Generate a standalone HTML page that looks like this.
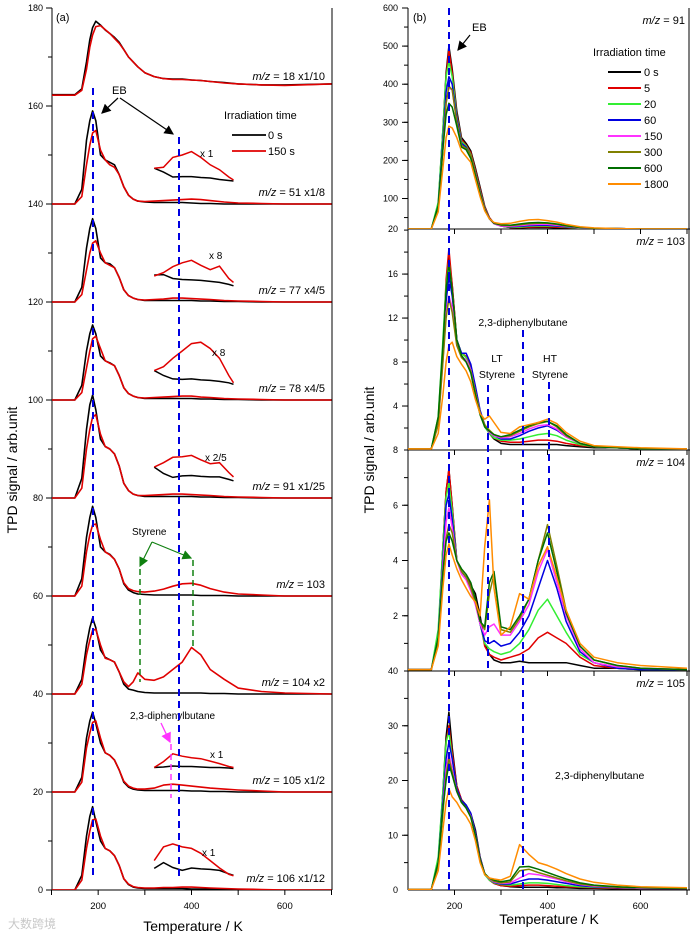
<!DOCTYPE html>
<html><head><meta charset="utf-8">
<style>
html,body{margin:0;padding:0;background:#fff;}
svg{display:block;font-family:"Liberation Sans",Arial,sans-serif;}
</style></head>
<body>
<svg id="chart" width="690" height="937" viewBox="0 0 690 937" xmlns="http://www.w3.org/2000/svg">
<defs>
<clipPath id="clipA"><rect x="52" y="4" width="280" height="886"/></clipPath>
<clipPath id="clipB1"><rect x="408" y="4" width="282" height="225"/></clipPath>
<clipPath id="clipB2"><rect x="408" y="229" width="282" height="221"/></clipPath>
<clipPath id="clipB3"><rect x="408" y="450" width="282" height="221"/></clipPath>
<clipPath id="clipB4"><rect x="408" y="671" width="282" height="219"/></clipPath>
<marker id="arrBlack" markerWidth="8" markerHeight="8" refX="7" refY="4" orient="auto"><path d="M0,0 L8,4 L0,8 z" fill="#000"/></marker>
<marker id="arrGreen" markerWidth="8" markerHeight="8" refX="7" refY="4" orient="auto"><path d="M0,0 L8,4 L0,8 z" fill="#108010"/></marker>
<marker id="arrMag" markerWidth="8" markerHeight="8" refX="7" refY="4" orient="auto"><path d="M0,0 L8,4 L0,8 z" fill="#ff33ff"/></marker>
</defs>
<g id="layer-axes"></g>
<g id="layer-marks"></g>
<g id="layer-annot" font-size="11">
  <text x="56" y="21" font-size="11">(a)</text>
  <text x="413" y="21" font-size="11">(b)</text>
  <text x="112" y="94" font-size="11">EB</text>
  <line x1="118" y1="98" x2="102" y2="113" stroke="#000" stroke-width="1.2" marker-end="url(#arrBlack)"/>
  <line x1="120" y1="98" x2="173" y2="134" stroke="#000" stroke-width="1.2" marker-end="url(#arrBlack)"/>
  <text x="224" y="119" font-size="11">Irradiation time</text>
  <line x1="232" y1="135" x2="266" y2="135" stroke="#000" stroke-width="1.8"/>
  <text x="268" y="139" font-size="11">0 s</text>
  <line x1="232" y1="151" x2="266" y2="151" stroke="#e00000" stroke-width="1.8"/>
  <text x="268" y="155" font-size="11">150 s</text>
  <text x="200" y="157" font-size="10">x 1</text>
  <text x="209" y="259" font-size="10">x 8</text>
  <text x="212" y="356" font-size="10">x 8</text>
  <text x="205" y="461" font-size="10">x 2/5</text>
  <text x="132" y="535" font-size="10">Styrene</text>
  <line x1="152" y1="542" x2="140" y2="566" stroke="#108010" stroke-width="1.2" marker-end="url(#arrGreen)"/>
  <line x1="152" y1="542" x2="191" y2="558" stroke="#108010" stroke-width="1.2" marker-end="url(#arrGreen)"/>
  <line x1="140" y1="569" x2="140" y2="682" stroke="#108010" stroke-width="1.5" stroke-dasharray="6,4"/>
  <line x1="193" y1="560" x2="193" y2="650" stroke="#108010" stroke-width="1.5" stroke-dasharray="6,4"/>
  <text x="130" y="719" font-size="10">2,3-diphenylbutane</text>
  <line x1="161" y1="723" x2="170" y2="742" stroke="#ff33ff" stroke-width="1.3" marker-end="url(#arrMag)"/>
  <line x1="171" y1="744" x2="171" y2="798" stroke="#ff33ff" stroke-width="1.5" stroke-dasharray="6,4"/>
  <text x="210" y="758" font-size="10">x 1</text>
  <text x="202" y="856" font-size="10">x 1</text>
  <line x1="93" y1="88" x2="93" y2="880" stroke="#0000e0" stroke-width="2" stroke-dasharray="7,5"/>
  <line x1="179" y1="137" x2="179" y2="880" stroke="#0000e0" stroke-width="2" stroke-dasharray="7,5"/>
  <text x="472" y="31" font-size="11">EB</text>
  <line x1="470" y1="35" x2="458" y2="50" stroke="#000" stroke-width="1.2" marker-end="url(#arrBlack)"/>
  <text x="593" y="56" font-size="11">Irradiation time</text>
  <text x="497" y="362" font-size="10.5" text-anchor="middle">LT</text>
  <text x="497" y="378" font-size="10.5" text-anchor="middle">Styrene</text>
  <text x="550" y="362" font-size="10.5" text-anchor="middle">HT</text>
  <text x="550" y="378" font-size="10.5" text-anchor="middle">Styrene</text>
  <text x="523" y="326" font-size="10.5" text-anchor="middle">2,3-diphenylbutane</text>
  <text x="555" y="779" font-size="10.5">2,3-diphenylbutane</text>
  <line x1="449" y1="8" x2="449" y2="890" stroke="#0000e0" stroke-width="2" stroke-dasharray="7,5"/>
  <line x1="488" y1="385" x2="488" y2="670" stroke="#0000e0" stroke-width="2" stroke-dasharray="7,5"/>
  <line x1="523" y1="330" x2="523" y2="890" stroke="#0000e0" stroke-width="2" stroke-dasharray="7,5"/>
  <line x1="549" y1="382" x2="549" y2="560" stroke="#0000e0" stroke-width="2" stroke-dasharray="7,5"/>
  <text x="193" y="931" font-size="14" text-anchor="middle">Temperature / K</text>
  <text x="549" y="924" font-size="14" text-anchor="middle">Temperature / K</text>
  <text transform="translate(17,470) rotate(-90)" font-size="14" text-anchor="middle">TPD signal / arb.unit</text>
  <text transform="translate(374,450) rotate(-90)" font-size="14" text-anchor="middle">TPD signal / arb.unit</text>
  <text x="8" y="928" font-size="12" fill="#c8c8c8" font-family="'Liberation Sans','Noto Sans CJK SC',sans-serif">大数跨境</text>
</g>
</svg>
<script>
// Temperature grid (K) for main traces
const tempsA = [150,165,175,182,188,195,205,215,225,235,245,255,265,275,285,300,320,340,360,380,400,420,440,470,500,550,600,700];
const tempsInset = [320,340,360,380,400,420,440,460,480,490];

// Panel (a) baselines and traces (relative to baseline)
const baseA = [162,140,120,100,80,60,40,20,0];
const labelsA = ["18 x1/10","51 x1/8","77 x4/5","78 x4/5","91 x1/25","103","104 x2","105 x1/2","106 x1/12"];
const a18Black = [0.3,1.5,7,11.5,14,15.3,14.5,13.5,12.8,12,11,9.5,8,7,6,4.8,4,3.6,3.5,3.5,3.3,3.2,3,2.8,2.5,2.3,2.3,2.5];
const a18Red   = [0.2,1.2,5.5,10,12.5,14.2,14.4,13.6,12.8,11.8,10.8,9.5,8,7,6,4.8,4,3.6,3.4,3.4,3.3,3.2,3,2.7,2.5,2.3,2.2,2.5];
const a51Black = [0,3,13,17,19,17,10,9,8.5,8,6,3.5,1.8,1,0.6,0.4,0.3,0.3,0.3,0.3,0.2,0.1,0.1,0,0,0,0,0];
const a51Red   = [0,1.5,8,12,14.5,15,11,9,8,7.5,6,3.5,1.8,1,0.6,0.5,0.6,0.7,0.8,0.9,1,0.9,0.7,0.4,0.2,0.1,0,0];
const a77Black = [0,3,11,15,17,15,9,8,7.8,7,5,2.5,1.3,0.8,0.5,0.3,0.3,0.3,0.3,0.3,0.3,0.2,0.2,0.1,0.1,0,0,0];
const a77Red   = [0,1.5,6.5,10,12,12.5,10,8,7.5,7,5,2.5,1.3,0.8,0.5,0.4,0.5,0.6,0.8,0.8,0.7,0.6,0.5,0.3,0.2,0.1,0,0];
const a78Black = [0,3,10,13.5,15.3,13.5,9,8,7.6,7,5,2.5,1.3,0.8,0.5,0.3,0.3,0.3,0.3,0.3,0.3,0.2,0.2,0.1,0.1,0,0,0];
const a78Red   = [0,1.5,6.5,10,12.5,13,10.5,8,7.5,7,5,2.5,1.3,0.8,0.5,0.4,0.5,0.6,0.7,0.8,0.8,0.6,0.5,0.3,0.2,0.1,0,0];
const a91Black = [0,4,14,19,21,18,12,10.5,10,9,6.5,3,1.5,0.8,0.5,0.3,0.3,0.3,0.3,0.3,0.3,0.2,0.2,0.1,0.1,0,0,0];
const a91Red   = [0,2,10,14,16.5,17,13,10.5,10,9,6.5,3,1.5,0.8,0.5,0.5,0.6,0.7,0.8,0.8,0.7,0.6,0.5,0.3,0.2,0.1,0,0];
const a103Black= [0,3.5,12,16,18.3,16,10,9,8.5,7.5,5.5,2.5,1.2,0.7,0.4,0.3,0.2,0.2,0.2,0.2,0.2,0.1,0.1,0.1,0,0,0,0];
const a103Red  = [0,2,9,12.5,14.5,14.7,11.5,9,8.4,7.5,5.5,2.7,1.5,1.1,0.9,0.8,1,1.4,2,2.5,2.6,2.2,1.5,0.8,0.4,0.2,0,0];
const a104Black= [0,3,10,13.5,15.5,13.5,9,7.5,7,6.5,4.5,2,1,0.8,0.5,0.3,0.2,0.2,0.2,0.2,0.2,0.2,0.1,0.1,0,0,0,0];
const a104Red  = [0,2,8,11,13,13.2,10,7.3,7,6.5,4.5,2.5,1.5,2.5,4.3,3,2.8,3.5,5,6.5,9.5,8,5,3,1.2,0.5,0.2,0];
const a105Black= [0,3,11,14.5,16.3,14,10,8,7.5,6.5,4.5,2,1,0.6,0.4,0.3,0.3,0.3,0.3,0.3,0.2,0.2,0.1,0.1,0,0,0,0];
const a105Red  = [0,2,9,12,14.2,14.5,11,8,7.5,6.5,4.5,2.2,1.2,0.8,0.6,0.6,0.8,1.4,1.6,1.4,1.2,1,0.8,0.6,0.4,0.2,0,0];
const a106Black= [0,3,11,15,17,14,10,8.5,8,7,5,2.3,1.1,0.6,0.4,0.3,0.3,0.3,0.3,0.3,0.2,0.2,0.2,0.1,0.1,0,0,0];
const a106Red  = [0,2,8.5,12,14.3,14.5,11,8.5,8,7,5,2.3,1.2,0.7,0.5,0.4,0.4,0.5,0.5,0.6,0.6,0.5,0.4,0.3,0.2,0.1,0,0];
// Insets (absolute axis values)
const i51Black = [147.3,146.5,145.5,145.6,145.6,145.4,145.3,145.0,144.8,144.7];
const i51Red   = [147.3,147.5,149.5,150,150.7,149.5,148,147,145.5,144.9];
const i77Black = [125.5,125.6,124.8,124.6,124.5,124.4,124.2,124,123.6,123.3];
const i77Red   = [125.3,126,127.2,128,128.5,127.5,126.6,127.3,124.8,124];
const i78Black = [106,105,104.3,104.2,104.3,104.1,104,103.8,103.5,103.2];
const i78Red   = [106,106.8,108.5,110,111.5,111.8,110.5,108.5,105,103.5];
const i91Black = [86.3,85,84.2,84.5,84.6,84.4,84.3,84.3,83.8,83.5];
const i91Red   = [86.3,87.2,88.3,88.4,88.7,87.8,87.0,87.2,85.2,84.3];
const i105Black= [25,25.1,25.3,25.2,25.2,25.1,25,25,24.9,24.8];
const i105Red  = [25,26.2,27.8,27.3,27,26.8,26.3,25.8,25.2,25];
const i106Black= [4.4,5.6,4.6,4.0,4.5,4.3,4.2,4.0,3.3,3.0];
const i106Red  = [6,8.8,9.4,8.8,8.5,7.5,6,4.5,3.2,2.9];

// Panel (b) series
const timesB = ["0 s","5","20","60","150","300","600","1800"];
const b91_0   = [20,80,280,430,500,440,330,260,245,225,180,130,80,50,35,28,24,23,24,24,24,23,23,22,21,21,20,20];
const b91_5   = [20,80,275,420,490,430,320,255,240,220,175,125,78,50,35,28,24,24,25,26,26,25,24,22,21,21,20,20];
const b91_20  = [20,90,280,420,460,420,315,250,238,215,170,120,75,48,34,28,25,25,27,28,28,27,25,22,21,21,20,20];
const b91_60  = [20,80,250,380,420,400,310,245,235,212,168,118,74,48,34,28,26,27,29,30,30,28,26,23,21,21,20,20];
const b91_150 = [20,75,230,350,390,385,300,240,230,210,165,115,72,47,34,28,27,29,31,32,32,30,27,23,21,21,20,20];
const b91_300 = [20,75,230,350,395,385,300,240,232,212,165,115,72,47,35,30,29,31,34,35,35,32,28,24,22,21,20,20];
const b91_600 = [20,80,230,320,350,340,290,235,228,205,160,112,70,47,35,31,30,33,36,37,36,33,29,24,22,21,20,20];
const b91_1800= [20,65,180,260,290,285,260,225,210,195,150,105,68,47,37,34,35,40,44,45,42,38,32,26,23,21,20,20];
const b103_0  = [0.1,2.5,9,15,17.5,15,10,8.8,8.5,7.5,5.5,3.5,2.2,1.5,1,0.6,0.5,0.5,0.5,0.5,0.5,0.5,0.4,0.3,0.2,0.2,0.1,0.1];
const b103_5  = [0.1,2.5,9,15.5,18.3,15,10,8.8,8.5,7.5,5.5,3.5,2.2,1.5,1.1,0.8,0.7,0.7,0.8,0.9,0.9,0.8,0.6,0.4,0.3,0.2,0.1,0.1];
const b103_20 = [0.1,3,10,15,17.2,14.5,10,8.8,8.4,7.3,5.3,3.4,2.1,1.5,1.1,0.9,0.9,1.0,1.2,1.4,1.5,1.3,0.9,0.5,0.3,0.2,0.1,0.1];
const b103_60 = [0.1,2.5,8.5,13.5,15.8,14,10,8.8,8.8,7.8,5.8,3.6,2.3,1.6,1.3,1.0,1.0,1.3,1.7,2.0,2.2,1.8,1.2,0.6,0.3,0.2,0.1,0.1];
const b103_150= [0.1,2.3,8,12.5,14,13,9.5,8.5,8.2,7.3,5.3,3.4,2.2,1.6,1.3,1.1,1.2,1.5,1.9,2.2,2.3,1.9,1.2,0.6,0.3,0.2,0.1,0.1];
const b103_300= [0.1,2.3,8,12,13.8,12.5,9.5,8.4,8.0,7.2,5.3,3.4,2.3,1.8,1.4,1.2,1.3,1.7,2.1,2.4,2.6,2.1,1.3,0.6,0.3,0.2,0.1,0.1];
const b103_600= [0.1,3,9.5,14.5,17,14.5,10,8.6,8.0,7.0,5.0,3.2,2.1,1.7,1.4,1.2,1.4,1.8,2.2,2.5,2.6,2.2,1.4,0.6,0.3,0.2,0.1,0.1];
const b103_1800=[0.1,1.5,5,8,9.5,9.8,8.5,7.8,7.2,6.2,4.6,3.3,2.8,3.1,2.5,1.6,1.5,2.1,2.3,2.5,2.8,2.4,1.6,0.8,0.4,0.3,0.2,0.1];
const b104_0  = [0.05,1.2,4.5,6.5,7.3,6,4,3.6,3.4,3.1,2.8,2.0,1.0,0.6,0.4,0.3,0.3,0.35,0.3,0.3,0.3,0.3,0.3,0.2,0.1,0.1,0.05,0.05];
const b104_5  = [0.05,1.2,4.5,6.5,7.3,6,4,3.6,3.4,3.1,2.6,1.8,0.9,0.6,0.5,0.4,0.5,0.6,0.8,1.2,1.4,1.2,1.0,0.5,0.2,0.1,0.05,0.05];
const b104_20 = [0.05,1.5,4.5,6.3,6.8,5.8,4,3.6,3.4,3.0,2.5,1.7,1.0,0.8,0.7,0.6,0.7,1.0,1.5,2.2,2.6,2.0,1.4,0.6,0.3,0.1,0.05,0.05];
const b104_60 = [0.05,1.2,4,6,6.4,5.5,4,3.6,3.4,3.0,2.5,1.7,1.1,1.0,1.1,0.9,1.0,1.4,2.0,3.0,4.0,3.0,1.8,0.7,0.3,0.1,0.05,0.05];
const b104_150= [0.05,1.1,3.8,5.4,5.9,5.2,4,3.5,3.3,2.9,2.4,1.7,1.3,1.6,1.7,1.3,1.3,1.8,2.4,3.6,4.4,3.2,2.0,0.8,0.3,0.15,0.1,0.05];
const b104_300= [0.05,1,3.5,4.8,5.3,5.0,4,3.6,3.4,3.0,2.5,1.8,1.5,2.8,3.5,1.5,1.4,1.9,2.6,4.0,5.3,3.8,2.2,0.9,0.4,0.2,0.1,0.05];
const b104_600= [0.05,1.2,3.6,4.7,5.0,4.7,4,3.7,3.5,3.2,2.6,1.8,1.6,3.2,3.6,1.6,1.5,2.0,2.6,4.0,5.0,3.6,2.1,0.9,0.4,0.2,0.1,0.05];
const b104_1800=[0.05,0.9,3,4.2,4.6,4.2,3.7,3.3,3.0,2.7,2.5,2.0,4.5,6.2,3.0,1.3,1.6,2.8,2.6,3.8,4.5,3.4,2.2,1.0,0.5,0.3,0.2,0.1];
const b105_0  = [0.1,5,18,28,32.5,26,19,16.5,15.5,14,11,6,3,1.8,1.2,0.8,0.6,0.5,0.5,0.5,0.5,0.4,0.4,0.3,0.3,0.2,0.2,0.2];
const b105_5  = [0.1,5,17,27,30,25,19,16.5,15.3,13.8,10.5,5.8,3,1.8,1.2,0.8,0.7,0.8,0.9,0.9,0.8,0.7,0.6,0.5,0.4,0.3,0.3,0.3];
const b105_20 = [0.1,6,18,27,29,24,18.5,16,15,13.5,10,5.5,2.8,1.8,1.3,1.0,0.9,1.1,1.3,1.3,1.2,1.0,0.8,0.6,0.5,0.4,0.3,0.3];
const b105_60 = [0.1,5,16,24,27,24,18.5,16.3,15.5,14,10.5,5.8,3,2,1.4,1.1,1.1,1.6,2.0,2.0,1.8,1.5,1.2,0.8,0.6,0.4,0.3,0.3];
const b105_150= [0.1,4.5,15,22,25,22,18,16,15,13.5,10,5.5,2.9,2,1.5,1.2,1.3,2.2,3.0,2.8,2.4,2.0,1.5,1.0,0.7,0.5,0.3,0.3];
const b105_300= [0.1,4.5,14,21,24,21.5,18,16,15,13.3,10,5.5,3,2.1,1.6,1.3,1.5,3.5,3.8,3.2,2.7,2.2,1.7,1.1,0.8,0.5,0.4,0.3];
const b105_600= [0.1,5,15,20,23,21,18,16,15,13.3,10,5.5,3.0,2.2,1.8,1.5,1.8,4.2,4.3,3.8,3.2,2.6,2.0,1.3,0.9,0.6,0.4,0.3];
const b105_1800=[0.1,3.5,11,16,18.5,17,16,14.5,13.5,12,9,5,2.8,2.2,2.0,1.8,2.5,8.3,6.5,5,4.5,3.8,3.0,2.0,1.4,0.9,0.6,0.4];

const NS = "http://www.w3.org/2000/svg";
const axesG = document.getElementById('layer-axes');
const marksG = document.getElementById('layer-marks');
const colorsB = ["#000000","#e00000","#33ee33","#0000e0","#ff33ff","#808000","#006e00","#ff8c00"];

function xa(t){ return 51.5 + (t-100)*280/600; }
function ya(v){ return 890 - v*4.9; }
function xb(t){ return 408 + (t-100)*0.465; }
const panelsB = [
  {lo:20, hi:600, top:8, bot:229, clip:'clipB1'},
  {lo:0, hi:20.1, top:229, bot:450, clip:'clipB2'},
  {lo:0, hi:8, top:450, bot:671, clip:'clipB3'},
  {lo:0, hi:40, top:671, bot:890, clip:'clipB4'}
];
function ybFn(p){ return v => p.bot - (v-p.lo)/(p.hi-p.lo)*(p.bot-p.top); }

function mk(tag, attrs, parent){
  const el = document.createElementNS(NS, tag);
  for (const k in attrs) el.setAttribute(k, attrs[k]);
  parent.appendChild(el);
  return el;
}
function pathD(ts, vs, fx, fy, off){
  return ts.map((t,i)=>(i?'L':'M')+fx(t).toFixed(1)+','+fy(vs[i]+(off||0)).toFixed(1)).join(' ');
}
function addLine(x1,y1,x2,y2,name){
  const l = mk('line',{x1:x1,y1:y1,x2:x2,y2:y2,stroke:'#000','stroke-width':1},axesG);
  
  
  return l;
}
function addText(x,y,s,name,anchor,size){
  const t = mk('text',{x:x,y:y,'font-size':size||9,'text-anchor':anchor||'end'},axesG);
  t.textContent = s;
  
  
  return t;
}

// ---- Panel (a) axes ----
addLine(52,8,52,890,'y-axis-a');
addLine(332,8,332,890,'right-border-a');
addLine(52,890,332,890,'x-axis-a');
for (let v=0; v<=180; v+=10){
  const major = v%20===0;
  addLine(major?46:48, ya(v), 52, ya(v), 'y-tick-a');
  if (major) addText(43, ya(v)+3, String(v), 'y-tick-label-a');
}
for (let t=100; t<=700; t+=100){
  addLine(xa(t), 890, xa(t), 895, 'x-tick-a');
  if (t%200===0) addText(xa(t), 909, String(t), 'x-tick-label-a', 'middle', 9.5);
}
// ---- Panel (b) axes ----
addLine(408,8,408,890,'y-axis-b');
addLine(689,8,689,890,'right-border-b');
panelsB.forEach((p,pi)=>{
  addLine(408,p.bot,690,p.bot,'panel-b-bottom-'+pi);
  for (let t=200; t<=700; t+=100) addLine(xb(t), p.bot, xb(t), p.bot+5, 'x-tick-b');
});
const yb = panelsB.map(ybFn);
const ticksB = [[100,200,300,400,500,600],[4,8,12,16],[2,4,6],[10,20,30]];
const minorB = [50,2,1,5];
panelsB.forEach((p,pi)=>{
  for (let v=Math.ceil(p.lo/minorB[pi])*minorB[pi]; v<=p.hi; v+=minorB[pi]){
    if (v===p.lo) continue;
    addLine(404, yb[pi](v), 408, yb[pi](v), 'y-minor-tick-b');
  }
  ticksB[pi].forEach(v=>{
    addLine(402, yb[pi](v), 408, yb[pi](v), 'y-tick-b');
    addText(398, yb[pi](v)+3, String(v), 'y-tick-label-b');
  });
});
addText(398, 232, '20', 'y-tick-label-b');
addText(398, 453, '8', 'y-tick-label-b');
addText(398, 674, '40', 'y-tick-label-b');
addText(398, 893, '0', 'y-tick-label-b');
for (let t=200; t<=600; t+=200) addText(xb(t), 909, String(t), 'x-tick-label-b', 'middle', 9.5);

// ---- Panel (a) traces ----
const gA = mk('g',{'clip-path':'url(#clipA)'},marksG);


const tracesA = [[a18Black,a18Red],[a51Black,a51Red],[a77Black,a77Red],[a78Black,a78Red],[a91Black,a91Red],[a103Black,a103Red],[a104Black,a104Red],[a105Black,a105Red],[a106Black,a106Red]];
const massA = ["18","51","77","78","91","103","104","105","106"];
tracesA.forEach((pair,i)=>{
  const b = baseA[i];
  const tt = [100].concat(tempsA);
  [0,1].forEach(k=>{
    const vals = [pair[k][0]].concat(pair[k]);
    const p = mk('path',{d:pathD(tt, vals, xa, ya, b), fill:'none', stroke: k? '#e00000':'#000', 'stroke-width':1.6, 'stroke-linejoin':'round'}, gA);
    
    
  });
  const ly = i===0 ? 80 : ya(b)-8;
  const lab = mk('text',{x:325, y:ly, 'font-size':11, 'text-anchor':'end'}, marksG);
  
  
  const it = document.createElementNS(NS,'tspan'); it.setAttribute('font-style','italic'); it.textContent='m/z'; lab.appendChild(it);
  const rest = document.createElementNS(NS,'tspan'); rest.textContent=' = '+labelsA[i]; lab.appendChild(rest);
});
const insets = [["51",i51Black,i51Red],["77",i77Black,i77Red],["78",i78Black,i78Red],["91",i91Black,i91Red],["105",i105Black,i105Red],["106",i106Black,i106Red]];
insets.forEach(ins=>{
  [1,2].forEach(k=>{
    const p = mk('path',{d:pathD(tempsInset, ins[k], xa, ya, 0), fill:'none', stroke: k===2? '#e00000':'#000', 'stroke-width':1.5}, gA);
    
    
  });
});

// ---- Panel (b) traces ----
const seriesB = [
  [b91_0,b91_5,b91_20,b91_60,b91_150,b91_300,b91_600,b91_1800],
  [b103_0,b103_5,b103_20,b103_60,b103_150,b103_300,b103_600,b103_1800],
  [b104_0,b104_5,b104_20,b104_60,b104_150,b104_300,b104_600,b104_1800],
  [b105_0,b105_5,b105_20,b105_60,b105_150,b105_300,b105_600,b105_1800]
];
const massB = ["91","103","104","105"];
panelsB.forEach((pn,pi)=>{
  const g = mk('g',{'clip-path':'url(#'+pn.clip+')'}, marksG);
  
  
  const tt = [100].concat(tempsA);
  [0,1,2,3,4,5,6,7].forEach(si=>{
    const s = seriesB[pi][si];
    const vals = [s[0]].concat(s);
    const p = mk('path',{d:pathD(tt, vals, xb, yb[pi], 0), fill:'none', stroke:colorsB[si], 'stroke-width':1.5, 'stroke-linejoin':'round'}, g);
    
    
  });
  const lab = mk('text',{x:685, y:pn.top+16, 'font-size':11, 'text-anchor':'end'}, marksG);
  
  
  const it = document.createElementNS(NS,'tspan'); it.setAttribute('font-style','italic'); it.textContent='m/z'; lab.appendChild(it);
  const rest = document.createElementNS(NS,'tspan'); rest.textContent=' = '+massB[pi]; lab.appendChild(rest);
});
// legend (b)
timesB.forEach((lbl,i)=>{
  const y = 72 + i*16;
  const l = mk('line',{x1:608,y1:y,x2:641,y2:y,stroke:colorsB[i],'stroke-width':2}, marksG);
  
  
  const t = mk('text',{x:644,y:y+4,'font-size':11}, marksG);
  t.textContent = lbl;
  
  
});
</script>
</body></html>
